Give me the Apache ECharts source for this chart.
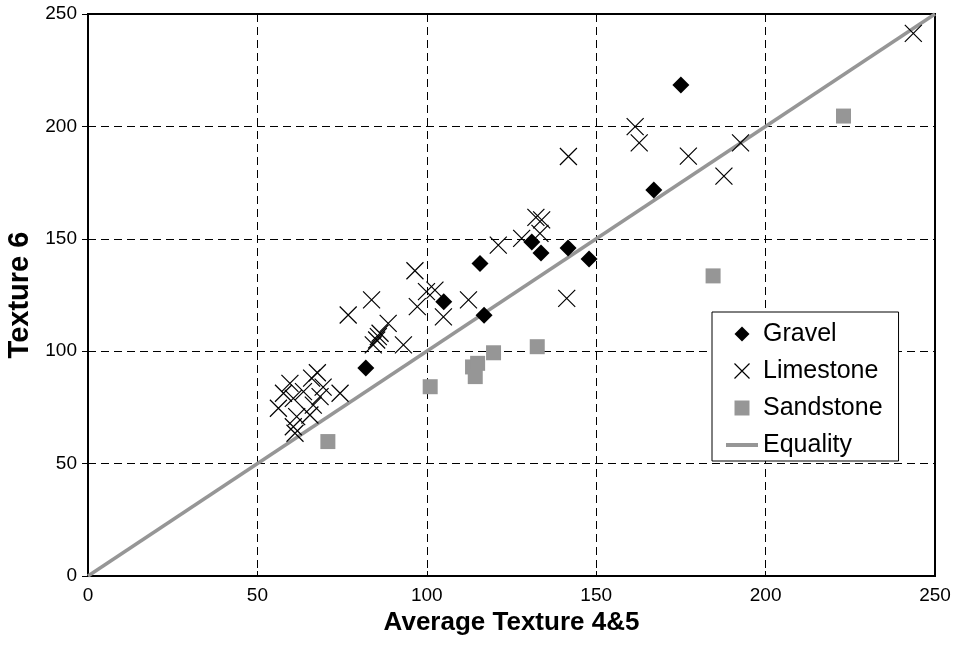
<!DOCTYPE html>
<html lang="en">
<head>
	<meta charset="UTF-8">
	<title>Texture scatter</title>
	<style>
		html, body { margin: 0; padding: 0; background: #fff; }
		#container { width: 956px; height: 654px; }
	</style>
</head>
<body>
	<div id="container"></div>
	<script src="https://cdn.jsdelivr.net/npm/echarts@6/dist/echarts.min.js"></script>
	<script>
		// [Average Texture 4&5, Texture 6]
		var gravel = [
			[82, 92.5], [105, 122], [115.7, 139], [116.9, 116], [131, 148.6],
			[133.7, 143.7], [141.7, 145.9], [147.9, 141], [167, 171.7], [175, 218.4]
		];
		var limestone = [
			[56.2, 74.6], [57.7, 81.3], [59.6, 85.7], [60.6, 79], [63.6, 82],
			[61.1, 63.5], [60.6, 66.4], [61.6, 70.9], [65.5, 71.6], [66.5, 76],
			[66, 88], [67.7, 90.4], [68.5, 79.8], [69.4, 84], [74.4, 81.3],
			[76.8, 116.1], [83.7, 122.8], [84.2, 102.8], [85.2, 105], [85.7, 106.5],
			[86.2, 108], [88.6, 112.4], [93.1, 102.8], [96.5, 135.8], [97.2, 119.8],
			[99.9, 126.5], [102.4, 127.2], [104.9, 115.3], [112.3, 122.8], [121.1, 147.2],
			[128, 150.2], [132.2, 159.5], [133.9, 158.4], [133.4, 152.4], [141.3, 123.5],
			[141.8, 186.6], [161.5, 199.9], [162.7, 192.7], [177.2, 186.8], [187.7, 177.9],
			[192.6, 192.7], [243.6, 241.4]
		];
		var sandstone = [
			[70.8, 59.8], [101, 84.2], [113.5, 93], [115, 94.6], [114.3, 88.7],
			[119.7, 99.3], [132.6, 102], [184.5, 133.5], [223, 204.6]
		];
		var equality = [[0, 0], [250, 250]];
		var tickValues = [0, 50, 100, 150, 200, 250];

		var crossPath = 'path://M0,0L10,10M10,0L0,10';
		var diamondPath = 'path://M5,0L10,5L5,10L0,5Z';
		var squarePath = 'path://M0,0L10,0L10,10L0,10Z';
		var linePath = 'path://M0,0L32,0L32,4L0,4Z';
		var font = 'Arial, "Liberation Sans", sans-serif';
		var grey = '#969696';

		var myChart = echarts.init(document.getElementById('container'));

		var axisCommon = {
			type: 'value',
			min: tickValues[0],
			max: tickValues[tickValues.length - 1],
			interval: 50,
			nameLocation: 'middle',
			nameTextStyle: { fontFamily: font, fontSize: 26, fontWeight: 'bold', color: '#000' },
			axisLine: { show: true, lineStyle: { color: '#000', width: 2 } },
			axisLabel: { fontFamily: font, fontSize: 19, color: '#000', margin: 10 },
			splitLine: { show: true, lineStyle: { color: '#000', width: 1, type: [8, 5] } }
		};

		var option = {
			animation: false,
			backgroundColor: '#fff',
			grid: {
				left: 88,
				right: 21,
				top: 14,
				bottom: 78,
				outerBoundsMode: 'none',
				show: true,
				borderColor: '#000',
				borderWidth: 2
			},
			xAxis: Object.assign({}, axisCommon, {
				name: 'Average Texture 4&5',
				nameGap: 31,
				axisTick: { show: true, inside: true, length: 5, lineStyle: { color: '#000' } }
			}),
			yAxis: Object.assign({}, axisCommon, {
				name: 'Texture 6',
				nameGap: 44,
				nameTextStyle: Object.assign({}, axisCommon.nameTextStyle, { fontSize: 29 }),
				axisTick: { show: true, length: 6, lineStyle: { color: '#000' } },
				axisLabel: Object.assign({}, axisCommon.axisLabel, { margin: 11 })
			}),
			legend: {
				orient: 'vertical',
				left: 712,
				top: 312,
				padding: [8, 16, 2, 14],
				itemGap: 9,
				itemWidth: 32,
				itemHeight: 15,
				symbolKeepAspect: true,
				borderColor: '#000',
				borderWidth: 1,
				backgroundColor: '#fff',
				textStyle: { fontFamily: font, fontSize: 25, lineHeight: 28, color: '#000' },
				data: [
					{ name: 'Gravel', icon: diamondPath, itemStyle: { color: '#000' } },
					{ name: 'Limestone', icon: crossPath, itemStyle: { color: 'none', borderColor: '#000', borderWidth: 1.2 } },
					{ name: 'Sandstone', icon: squarePath, itemStyle: { color: grey } },
					{ name: 'Equality', icon: linePath, itemStyle: { color: grey } }
				]
			},
			series: [
				{
					name: 'Equality',
					type: 'line',
					data: equality,
					symbol: 'none',
					lineStyle: { color: grey, width: 3.5 },
					itemStyle: { color: grey },
					z: 1
				},
				{
					name: 'Sandstone',
					type: 'scatter',
					data: sandstone,
					symbol: 'rect',
					symbolSize: 15,
					itemStyle: { color: grey, opacity: 1 },
					z: 2
				},
				{
					name: 'Limestone',
					type: 'scatter',
					data: limestone,
					symbol: crossPath,
					symbolSize: 17,
					itemStyle: { color: 'none', borderColor: '#000', borderWidth: 1.2, opacity: 1 },
					z: 3
				},
				{
					name: 'Gravel',
					type: 'scatter',
					data: gravel,
					symbol: 'diamond',
					symbolSize: 17,
					itemStyle: { color: '#000', opacity: 1 },
					z: 4
				}
			]
		};

		myChart.setOption(option);
	</script>
</body>
</html>
